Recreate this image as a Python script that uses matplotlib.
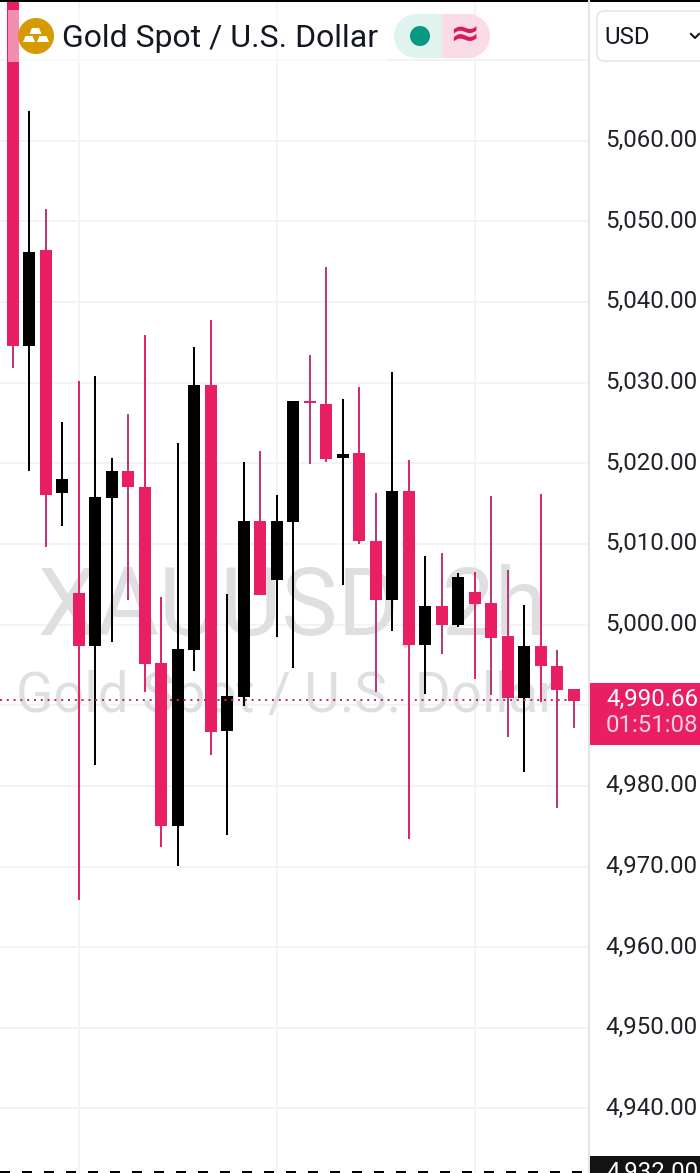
import matplotlib
matplotlib.use("Agg")
import matplotlib.pyplot as plt
from matplotlib.patches import Rectangle, FancyBboxPatch, Circle, Polygon
from matplotlib.transforms import ScaledTranslation

plt.rcParams['font.family'] = ['Roboto', 'DejaVu Sans']

# ---- data (prices) ----
highs = [5085.0, 5063.7, 5051.6, 5025.15, 5030.2, 5030.85, 5020.7, 5026.15, 5035.95, 5003.45,
         5022.55, 5034.45, 5037.8, 5003.8, 5020.2, 5021.55, 5016.1, 5027.75, 5033.45, 5044.4,
         5028.0, 5029.5, 5016.35, 5031.35, 5020.45, 5008.55, 5008.9, 5006.4, 5006.55, 5016.0,
         5006.8, 5002.45, 5016.2, 4996.9, 4992.0]
body_tops = [5080.0, 5046.2, 5046.4, 5018.0, 5003.95, 5015.85, 5019.1, 5019.1, 5017.1, 4995.3,
             4997.0, 5029.75, 5029.75, 4991.2, 5012.9, 5012.9, 5012.9, 5027.75, 5027.75, 5027.4,
             5021.2, 5021.3, 5010.4, 5016.6, 5016.6, 5002.3, 5002.3, 5005.9, 5004.05, 5002.7,
             4998.6, 4997.4, 4997.4, 4994.9, 4992.0]
body_bottoms = [5034.5, 5034.5, 5016.1, 5016.35, 4997.4, 4997.4, 5015.7, 5017.1, 4995.15, 4975.05,
                4975.05, 4996.9, 4986.7, 4986.85, 4991.05, 5003.7, 5005.55, 5012.75, 5027.5, 5020.55,
                5020.7, 5010.4, 5003.1, 5003.0, 4997.5, 4997.5, 4999.95, 4999.95, 5002.6, 4998.35,
                4990.95, 4990.95, 4994.9, 4991.9, 4990.55]
lows = [5031.85, 5019.0, 5009.65, 5012.25, 4965.9, 4982.6, 4997.9, 5003.1, 4991.7, 4972.45,
        4970.1, 4994.3, 4983.85, 4973.95, 4989.95, 5003.7, 4998.5, 4994.65, 5019.95, 5020.2,
        5004.95, 5010.0, 4991.7, 4999.25, 4973.45, 4991.4, 4996.4, 4999.7, 4993.3, 4991.3,
        4986.1, 4981.75, 4990.4, 4977.3, 4987.2]
is_up = [0, 1, 0, 1, 0, 1, 1, 0, 0, 0, 1, 1, 0, 1, 1, 0, 1, 1, 0, 0,
         1, 0, 0, 1, 0, 1, 0, 1, 0, 0, 0, 1, 0, 0, 0]
bright_wicks = [4, 8, 9, 12, 21, 24, 28, 32]
price_ticks = [5070, 5060, 5050, 5040, 5030, 5020, 5010, 5000, 4990, 4980, 4970, 4960, 4950, 4940]
hidden_ticks = [5070, 4990]
time_grid = [4, 16, 28]
last_price = 4990.66
axis_low = 4932.0
title = "Gold Spot / U.S. Dollar"
symbol_mark = "XAUUSD, 2h"

RED = "#e91e63"
WICK_RED = "#b83a78"
WICK_BRIGHT = "#e0246a"
BLACK = "#000000"
GRID = "#f2f3f4"
W, H = 700, 1173
PLOT_W = 589
x0, step = 12.7, 16.5
ppu = 8.064

fig = plt.figure(figsize=(W / 100, H / 100), dpi=100, facecolor="white")
ax = fig.add_axes([0, 0, PLOT_W / W, 1])
ax.set_xlim(-x0 / step, (PLOT_W - x0) / step)
ax.set_ylim(axis_low, axis_low + H / ppu)
for s in ax.spines.values():
    s.set_visible(False)

# grid
ax.set_axisbelow(True)
ax.set_xticks(time_grid)
ax.tick_params(axis='x', length=0, labelbottom=False)
ax.yaxis.tick_right()
ax.set_yticks(price_ticks)
ax.set_yticklabels(["" if p in hidden_ticks else f"{p:,.2f}" for p in price_ticks],
                   fontsize=17.3, color="#1f2329")
ax.tick_params(axis='y', length=0, pad=11.5)
shift = ScaledTranslation(0, 2.7 / 100, fig.dpi_scale_trans)
for lab in ax.get_yticklabels():
    lab.set_transform(lab.get_transform() + shift)
ax.grid(True, color=GRID, linewidth=1.44)

# watermark
ax.text(292 / PLOT_W, 1 - 634 / H, symbol_mark, transform=ax.transAxes, ha='center', va='baseline',
        fontsize=68, color="#dddfe1", zorder=1)
ax.text(286 / PLOT_W, 1 - 712 / H, title, transform=ax.transAxes, ha='center', va='baseline',
        fontsize=39.4, color="#dddfe1", zorder=1)

# candles
xs = list(range(len(highs)))
wick_cols = [BLACK if u else (WICK_BRIGHT if i in bright_wicks else WICK_RED)
             for i, u in enumerate(is_up)]
body_cols = [BLACK if u else RED for u in is_up]
ax.vlines(xs, lows, highs, colors=wick_cols, linewidth=1.44, zorder=3, capstyle='butt')
ax.bar(xs, [t - b for t, b in zip(body_tops, body_bottoms)], bottom=body_bottoms, width=12 / step,
       color=body_cols, linewidth=0, zorder=4)

# last price line
ax.axhline(last_price, xmax=0.992, color="#c8286c", linewidth=1.44, linestyle=(0, (1, 2.4)), zorder=5)
ax.axhline(axis_low + 0.12, color=BLACK, linewidth=1.44, linestyle=(0, (5, 6)), zorder=5)

# chrome overlay in pixel coordinates
ov = fig.add_axes([0, 0, 1, 1], facecolor="none")
ov.set_xlim(0, W)
ov.set_ylim(H, 0)
ov.axis("off")
ov.add_patch(Rectangle((0, 0), W, 2, color="#000000", lw=0))
ov.add_patch(Rectangle((8, 10), 380, 52, color="white", alpha=0.5, lw=0))
ov.add_patch(Rectangle((588, 0), 2, H, color="#e2e3e4", lw=0))

# logo
ov.add_patch(Circle((36, 36), 18, color="#d49a00", lw=0))
for px, ptop in [(35.5, 28), (29, 36), (43, 36)]:
    ov.add_patch(Polygon([(px - 3.5, ptop), (px + 3.5, ptop), (px + 6, ptop + 6), (px - 6, ptop + 6)],
                         color="white", lw=0))
ov.text(62, 47, title, fontsize=23.05, color="#131722", ha='left', va='baseline')

# status pill
ov.add_patch(Circle((416, 36), 22, color="#dff3ef", lw=0))
ov.add_patch(Rectangle((416, 14), 26, 44, color="#dff3ef", lw=0))
ov.add_patch(Circle((468, 36), 22, color="#fadbe6", lw=0))
ov.add_patch(Rectangle((442, 14), 26, 44, color="#fadbe6", lw=0))
ov.add_patch(Circle((420, 36), 10, color="#089981", lw=0))
ov.text(464, 36, "≈", fontsize=26, color="#d81b60", ha='center', va='center',
        family=['DejaVu Sans'], fontweight='bold')

# currency box
ov.add_patch(FancyBboxPatch((597, 11), 130, 50, boxstyle="round,pad=0,rounding_size=7",
                            fc="white", ec="#e6e7e9", lw=1.3))
ov.text(604, 44, "USD", fontsize=17.3, color="#131722", ha='left', va='baseline')
ov.plot([691, 695, 699], [34, 38, 34], color="#131722", lw=1.5)

# last price tag
ov.add_patch(Rectangle((590, 683), 110, 62, color=RED, lw=0))
ov.text(606, 705.5, f"{last_price:,.2f}", fontsize=17.3, color="white", ha='left', va='baseline')
ov.text(606, 732.5, "01:51:08", fontsize=17.3, color="#fbd0df", ha='left', va='baseline')

# crosshair price tag
ov.add_patch(Rectangle((590, 1156), 110, 17, color="#131313", lw=0))
ov.text(606, 1179, f"{axis_low:,.2f}", fontsize=17.3, color="white", ha='left', va='baseline', clip_on=True)

fig.savefig("out.png", dpi=100)
